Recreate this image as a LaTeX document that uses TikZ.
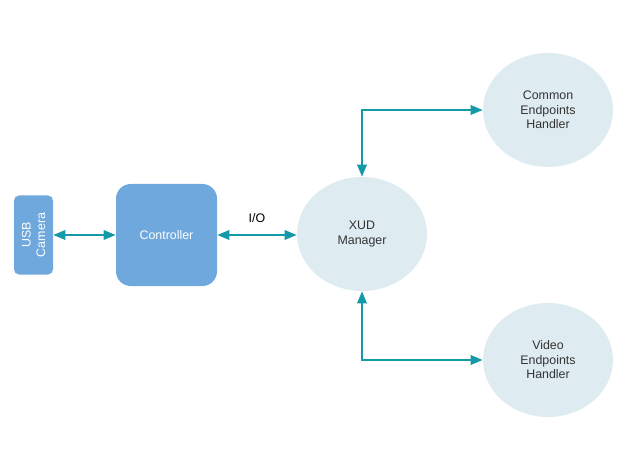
\documentclass[tikz,border=0pt]{standalone}
\usepackage{fontspec}
\setmainfont{Liberation Sans}
\usetikzlibrary{arrows.meta,shapes.geometric}
\definecolor{boxblue}{HTML}{6FA8DC}
\definecolor{ovalblue}{HTML}{DEECF2}
\definecolor{linkteal}{HTML}{1399A8}
\definecolor{labelgray}{HTML}{333333}
\begin{document}
\begin{tikzpicture}[x=0.75pt,y=-0.75pt,
  font=\fontsize{9.3}{10.9}\selectfont,
  block/.style={fill=boxblue,text=white,align=center,inner sep=0pt},
  oval/.style={ellipse,fill=ovalblue,text=labelgray,align=center,
    minimum width=97.5pt,minimum height=85.5pt,inner sep=0pt},
  link/.style={draw=linkteal,line width=1.6pt,
    {Triangle[length=9pt,width=7pt]}-{Triangle[length=9pt,width=7pt]}}]
\useasboundingbox (0,0) rectangle (627,470);

\node[block,rotate=90,minimum width=59.25pt,minimum height=29.25pt,rounded corners=3.75pt] (usb) at (33.5,235) {USB\\Camera};
\node[block,minimum width=75.75pt,minimum height=76.5pt,rounded corners=11pt] (ctrl) at (166.5,235) {Controller};

\node[oval] (xud) at (362,234) {XUD\\Manager};
\node[oval] (common) at (548,110) {Common\\Endpoints\\Handler};
\node[oval] (video) at (548,360) {Video\\Endpoints\\Handler};

\draw[link] (usb) -- (ctrl);
\draw[link] (ctrl) -- node[above=5pt,text=black] {I/O} (ctrl -| xud.west);
\draw[link] (xud) |- (common);
\draw[link] (xud) |- (video);
\end{tikzpicture}
\end{document}
